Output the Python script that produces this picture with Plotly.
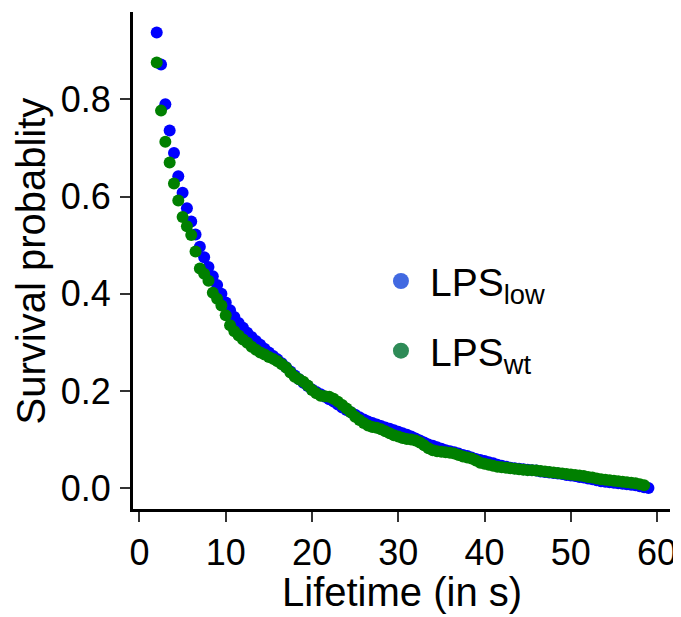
import plotly.graph_objects as go

time_s = [2.0, 2.5, 3.0, 3.5, 4.0, 4.5, 5.0, 5.5, 6.0, 6.5, 7.0, 7.5, 8.0, 8.5, 9.0, 9.5,
          10.0, 10.5, 11.0, 11.5, 12.0, 12.5, 13.0, 13.5, 14.0, 14.5, 15.0, 15.5, 16.0, 16.5,
          17.0, 17.5, 18.0, 18.5, 19.0, 19.5, 20.0, 20.5, 21.0, 21.5, 22.0, 22.5, 23.0, 23.5,
          24.0, 24.5, 25.0, 25.5, 26.0, 26.5, 27.0, 27.5, 28.0, 28.5, 29.0, 29.5, 30.0, 30.5,
          31.0, 31.5, 32.0, 32.5, 33.0, 33.5, 34.0, 34.5, 35.0, 35.5, 36.0, 36.5, 37.0, 37.5,
          38.0, 38.5, 39.0, 39.5, 40.0, 40.5, 41.0, 41.5, 42.0, 42.5, 43.0, 43.5, 44.0, 44.5,
          45.0, 45.5, 46.0, 46.5, 47.0, 47.5, 48.0, 48.5, 49.0, 49.5, 50.0, 50.5, 51.0, 51.5,
          52.0, 52.5, 53.0, 53.5, 54.0, 54.5, 55.0, 55.5, 56.0, 56.5, 57.0, 57.5, 58.0, 58.5,
          59.0]

surv_low = [0.938, 0.872, 0.790, 0.736, 0.690, 0.642, 0.608, 0.576, 0.549, 0.522, 0.497, 0.475,
            0.455, 0.436, 0.418, 0.400, 0.382, 0.366, 0.352, 0.340, 0.330, 0.320, 0.311, 0.303,
            0.295, 0.287, 0.279, 0.272, 0.265, 0.257, 0.249, 0.240, 0.232, 0.224, 0.217, 0.210,
            0.203, 0.198, 0.193, 0.188, 0.183, 0.178, 0.172, 0.166, 0.161, 0.156, 0.151, 0.146,
            0.141, 0.137, 0.134, 0.131, 0.128, 0.125, 0.122, 0.119, 0.116, 0.113, 0.110, 0.106,
            0.102, 0.098, 0.094, 0.090, 0.087, 0.084, 0.081, 0.078, 0.076, 0.074, 0.071, 0.068,
            0.066, 0.063, 0.060, 0.058, 0.056, 0.053, 0.051, 0.048, 0.046, 0.044, 0.042, 0.041,
            0.040, 0.039, 0.038, 0.037, 0.036, 0.034, 0.033, 0.032, 0.031, 0.030, 0.029, 0.027,
            0.026, 0.025, 0.023, 0.022, 0.020, 0.018, 0.016, 0.014, 0.013, 0.012, 0.011, 0.010,
            0.009, 0.008, 0.007, 0.006, 0.004, 0.002, 0.000]

surv_wt = [0.876, 0.777, 0.713, 0.670, 0.627, 0.592, 0.558, 0.539, 0.521, 0.487, 0.452, 0.441,
           0.427, 0.402, 0.390, 0.376, 0.356, 0.335, 0.323, 0.314, 0.306, 0.299, 0.291, 0.285,
           0.279, 0.275, 0.270, 0.266, 0.261, 0.255, 0.248, 0.238, 0.229, 0.224, 0.219, 0.211,
           0.202, 0.195, 0.190, 0.189, 0.188, 0.184, 0.178, 0.171, 0.164, 0.156, 0.147, 0.140,
           0.134, 0.129, 0.126, 0.124, 0.121, 0.117, 0.113, 0.109, 0.106, 0.103, 0.101, 0.100,
           0.098, 0.094, 0.088, 0.082, 0.078, 0.076, 0.075, 0.074, 0.073, 0.071, 0.068, 0.065,
           0.063, 0.061, 0.057, 0.052, 0.050, 0.048, 0.046, 0.044, 0.043, 0.042, 0.041, 0.040,
           0.039, 0.038, 0.037, 0.037, 0.036, 0.035, 0.034, 0.033, 0.032, 0.031, 0.030, 0.029,
           0.028, 0.027, 0.026, 0.025, 0.023, 0.022, 0.020, 0.018, 0.017, 0.016, 0.015, 0.014,
           0.013, 0.012, 0.011, 0.010, 0.008, 0.006]

series_names = ["LPS<sub>low</sub>", "LPS<sub>wt</sub>"]
x_ticks = [0, 10, 20, 30, 40, 50, 60]
y_ticks = [0.0, 0.2, 0.4, 0.6, 0.8]
y_tick_text = ["0.0", "0.2", "0.4", "0.6", "0.8"]

FONT = "Liberation Sans, Arial, sans-serif"

fig = go.Figure()
fig.add_trace(go.Scatter(x=time_s, y=surv_low, mode="markers",
                         marker=dict(color="#0000FF", size=12), showlegend=False))
fig.add_trace(go.Scatter(x=time_s[:len(surv_wt)], y=surv_wt, mode="markers",
                         marker=dict(color="#008000", size=12), showlegend=False))
# legend entries (legend symbols use lighter colours in the reference)
fig.add_trace(go.Scatter(x=[None], y=[None], mode="markers", name=series_names[0],
                         legendgroup="a", marker=dict(color="#4169E1", size=19)))
fig.add_trace(go.Scatter(x=[None], y=[None], mode="markers", name=series_names[1],
                         legendgroup="b", marker=dict(color="#2E8B57", size=19)))

# the page adds an 8px body margin, so the figure is 8px smaller than the window
fig.update_layout(
    width=673, height=609,
    margin=dict(l=125, r=11, t=4, b=108),
    paper_bgcolor="white", plot_bgcolor="white",
    font=dict(family=FONT, color="black", size=36),
    legend=dict(x=0.445, y=0.388, xanchor="left", yanchor="middle",
                bgcolor="rgba(0,0,0,0)", font=dict(size=39),
                tracegroupgap=16, itemwidth=48),
    xaxis=dict(range=[-0.75, 61.5], tickvals=x_ticks, ticks="outside", ticklen=10,
               tickwidth=1.5, tickcolor="#333", showline=True, linecolor="black",
               linewidth=3, showgrid=False, zeroline=False, automargin=False,
               tickfont=dict(size=36)),
    yaxis=dict(range=[-0.043, 0.98], tickvals=y_ticks, ticktext=y_tick_text,
               ticks="outside", ticklen=10, tickwidth=1.5, tickcolor="#333",
               showline=True, linecolor="black", linewidth=3, showgrid=False,
               zeroline=False, automargin=False, tickfont=dict(size=36),
               ticklabelstandoff=2),
    annotations=[
        dict(text="Lifetime (in s)", xref="paper", yref="paper", x=0.5, y=-0.167,
             xanchor="center", yanchor="middle", showarrow=False, font=dict(size=40)),
        dict(text="Survival probablity", textangle=-90, xref="paper", yref="paper",
             x=-0.19, y=0.5, xanchor="center", yanchor="middle", showarrow=False,
             font=dict(size=40)),
    ],
)

fig.write_html("out.html")
